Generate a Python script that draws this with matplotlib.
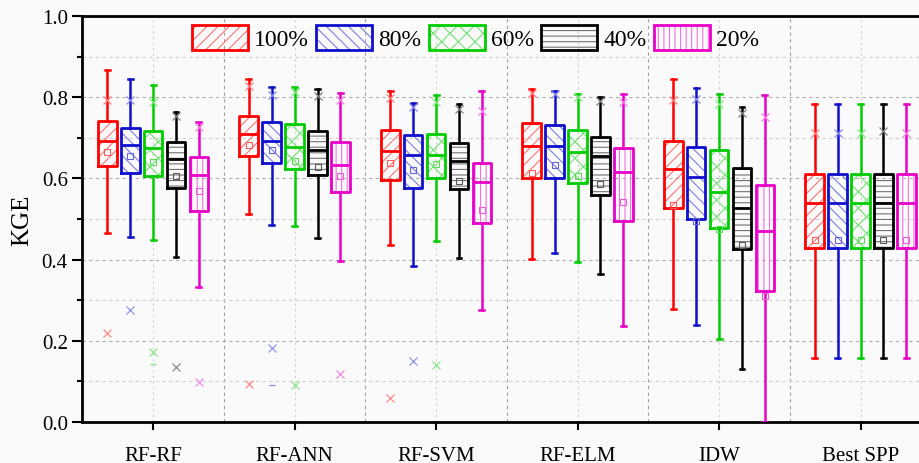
import numpy as np
import matplotlib
matplotlib.use("Agg")
import matplotlib.pyplot as plt
from matplotlib.patches import Patch
from matplotlib.legend_handler import HandlerTuple
from matplotlib.ticker import MultipleLocator, FormatStrFormatter
from matplotlib.colors import to_rgb

plt.rcParams["font.family"] = ["Liberation Serif", "DejaVu Serif"]
plt.rcParams["hatch.linewidth"] = 0.8

categories = ["RF-RF", "RF-ANN", "RF-SVM", "RF-ELM", "IDW", "Best SPP"]
groups = ["100%", "80%", "60%", "40%", "20%"]
colors = ["#ff0000", "#1010cc", "#00cc00", "#000000", "#e600c8"]
hatches = ["///", "\\\\\\", "xx", "---", "|||"]

# rows = categories, columns = groups
whislo = [[0.466, 0.456, 0.448, 0.406, 0.332],
          [0.512, 0.485, 0.483, 0.454, 0.397],
          [0.436, 0.384, 0.447, 0.404, 0.275],
          [0.402, 0.415, 0.394, 0.364, 0.236],
          [0.279, 0.240, 0.204, 0.130, 0.000],
          [0.157, 0.157, 0.157, 0.157, 0.157]]
q1 = [[0.630, 0.614, 0.607, 0.577, 0.519],
      [0.656, 0.638, 0.623, 0.609, 0.567],
      [0.596, 0.577, 0.602, 0.573, 0.489],
      [0.601, 0.601, 0.588, 0.558, 0.496],
      [0.527, 0.501, 0.477, 0.425, 0.323],
      [0.429, 0.429, 0.429, 0.429, 0.429]]
med = [[0.691, 0.681, 0.674, 0.648, 0.608],
       [0.710, 0.693, 0.677, 0.671, 0.632],
       [0.667, 0.658, 0.658, 0.642, 0.592],
       [0.680, 0.679, 0.665, 0.654, 0.616],
       [0.622, 0.604, 0.566, 0.528, 0.471],
       [0.539, 0.539, 0.539, 0.539, 0.539]]
q3 = [[0.741, 0.725, 0.717, 0.690, 0.652],
      [0.754, 0.740, 0.733, 0.717, 0.690],
      [0.718, 0.706, 0.710, 0.686, 0.639],
      [0.737, 0.732, 0.719, 0.702, 0.674],
      [0.691, 0.677, 0.670, 0.626, 0.583],
      [0.612, 0.612, 0.612, 0.612, 0.612]]
whishi = [[0.866, 0.846, 0.831, 0.763, 0.738],
          [0.845, 0.826, 0.826, 0.819, 0.810],
          [0.814, 0.786, 0.805, 0.783, 0.814],
          [0.820, 0.815, 0.808, 0.800, 0.807],
          [0.845, 0.822, 0.809, 0.776, 0.806],
          [0.782, 0.782, 0.782, 0.782, 0.782]]
means = [[0.664, 0.654, 0.640, 0.606, 0.568],
         [0.681, 0.671, 0.644, 0.627, 0.607],
         [0.637, 0.620, 0.635, 0.594, 0.523],
         [0.614, 0.633, 0.605, 0.585, 0.543],
         [0.535, 0.496, 0.475, 0.437, 0.311],
         [0.449, 0.449, 0.449, 0.449, 0.449]]
p99 = [[0.793, 0.793, 0.787, 0.753, 0.726],
       [0.827, 0.805, 0.812, 0.804, 0.792],
       [0.797, 0.777, 0.789, 0.771, 0.765],
       [0.810, 0.808, 0.800, 0.791, 0.787],
       [0.794, 0.795, 0.782, 0.761, 0.752],
       [0.713, 0.713, 0.713, 0.717, 0.713]]
p01 = [[0.220, 0.276, 0.173, 0.135, 0.099],
       [0.094, 0.181, 0.091, np.nan, 0.117],
       [0.058, 0.151, 0.141, np.nan, np.nan],
       [np.nan] * 5,
       [np.nan] * 5,
       [np.nan] * 5]
mins = [[np.nan, np.nan, 0.144, np.nan, np.nan],
        [np.nan, 0.090, np.nan, np.nan, np.nan],
        [np.nan] * 5,
        [np.nan] * 5,
        [np.nan] * 5,
        [np.nan] * 5]


def lighten(c, amt=0.45):
    r, g, b = to_rgb(c)
    return (r + (1 - r) * amt, g + (1 - g) * amt, b + (1 - b) * amt)


fig = plt.figure(figsize=(9.2, 4.64), dpi=100, facecolor="#f9f9f9")
ax = fig.add_axes([0.0895, 0.0884, 0.9228, 0.875])
ax.set_facecolor("#fafafa")

cat_pos = np.arange(1, len(categories) + 1)
step = 0.162
width = 0.132
n = len(categories)

for j, (g, c, h) in enumerate(zip(groups, colors, hatches)):
    pos = cat_pos + (j - 2) * step
    stats = []
    for i in range(n):
        stats.append(dict(med=med[i][j], q1=q1[i][j], q3=q3[i][j],
                          whislo=whislo[i][j], whishi=whishi[i][j],
                          mean=means[i][j], fliers=[]))
    light = lighten(c)
    hidden = dict(visible=False)
    # hatched fill in a lighter tone
    ax.bxp(stats, positions=pos, widths=width, patch_artist=True,
           showfliers=False, showmeans=False,
           boxprops=dict(facecolor="none", edgecolor=light, hatch=h, linewidth=0.5),
           whiskerprops=hidden, capprops=hidden, medianprops=hidden,
           zorder=3)
    # solid outline, whiskers, caps, median
    ax.bxp(stats, positions=pos, widths=width, patch_artist=False,
           showfliers=False, showmeans=False, capwidths=0.035,
           boxprops=dict(color=c, linewidth=2.0),
           whiskerprops=dict(color=c, linewidth=1.8),
           capprops=dict(color=c, linewidth=1.8),
           medianprops=dict(color=c, linewidth=2.0),
           zorder=4)
    ax.plot(pos, [means[i][j] for i in range(n)], ls="none",
            marker="s", ms=4.5, mfc="none", mec=lighten(c, 0.35), mew=0.8, zorder=5)
    ax.plot(pos, [p99[i][j] for i in range(n)], ls="none",
            marker="x", ms=5.5, mec=lighten(c, 0.5), mew=0.9, zorder=5)
    ax.plot(pos, [p01[i][j] for i in range(n)], ls="none",
            marker="x", ms=5.5, mec=lighten(c, 0.55), mew=0.9, zorder=5)
    ax.plot(pos, [mins[i][j] for i in range(n)], ls="none",
            marker="_", ms=5, mec=lighten(c, 0.5), mew=0.9, zorder=5)

ax.set_xlim(0.5, n + 0.5)
ax.set_ylim(0, 1.0)
ax.set_xticks(cat_pos)
ax.set_xticklabels(categories, fontsize=15)
ax.yaxis.set_major_locator(MultipleLocator(0.2))
ax.yaxis.set_minor_locator(MultipleLocator(0.1))
ax.yaxis.set_major_formatter(FormatStrFormatter("%.1f"))
ax.tick_params(axis="y", which="major", direction="out", length=7, width=1.5, labelsize=15)
ax.tick_params(axis="y", which="minor", direction="out", length=3.5, width=1.5)
ax.tick_params(axis="x", direction="out", length=6, width=1.5, pad=11)

ax.grid(which="major", axis="y", ls=(0, (3, 3)), color="#b0b0b0", lw=0.8, zorder=0)
ax.grid(which="minor", axis="y", ls=(0, (3, 3)), color="#d0d0d0", lw=0.8, zorder=0)
ax.grid(which="major", axis="x", ls=(0, (2, 3)), color="#d0d0d0", lw=0.8, zorder=0)
for xb in cat_pos[:-1] + 0.5:
    ax.axvline(xb, ls=(0, (3, 3)), color="#a0a0a0", lw=0.8, zorder=0)

for s in ["left", "bottom", "top"]:
    ax.spines[s].set_linewidth(2.0)
ax.spines["right"].set_visible(False)

ax.set_ylabel("KGE", fontsize=18, labelpad=6)

handles = []
for c, h in zip(colors, hatches):
    handles.append((Patch(facecolor="none", edgecolor=lighten(c), hatch=h, lw=0.5),
                    Patch(facecolor="none", edgecolor=c, lw=2.0)))
ax.legend(handles, groups, handler_map={tuple: HandlerTuple(ndivide=1, pad=0)},
          loc="upper center", bbox_to_anchor=(0.463, 1.0), ncol=5, frameon=False,
          fontsize=17, handlelength=2.37, handleheight=1.2, handletextpad=0.27,
          columnspacing=0.3, borderaxespad=0.0)

fig.savefig("out.png", dpi=100, facecolor=fig.get_facecolor())
